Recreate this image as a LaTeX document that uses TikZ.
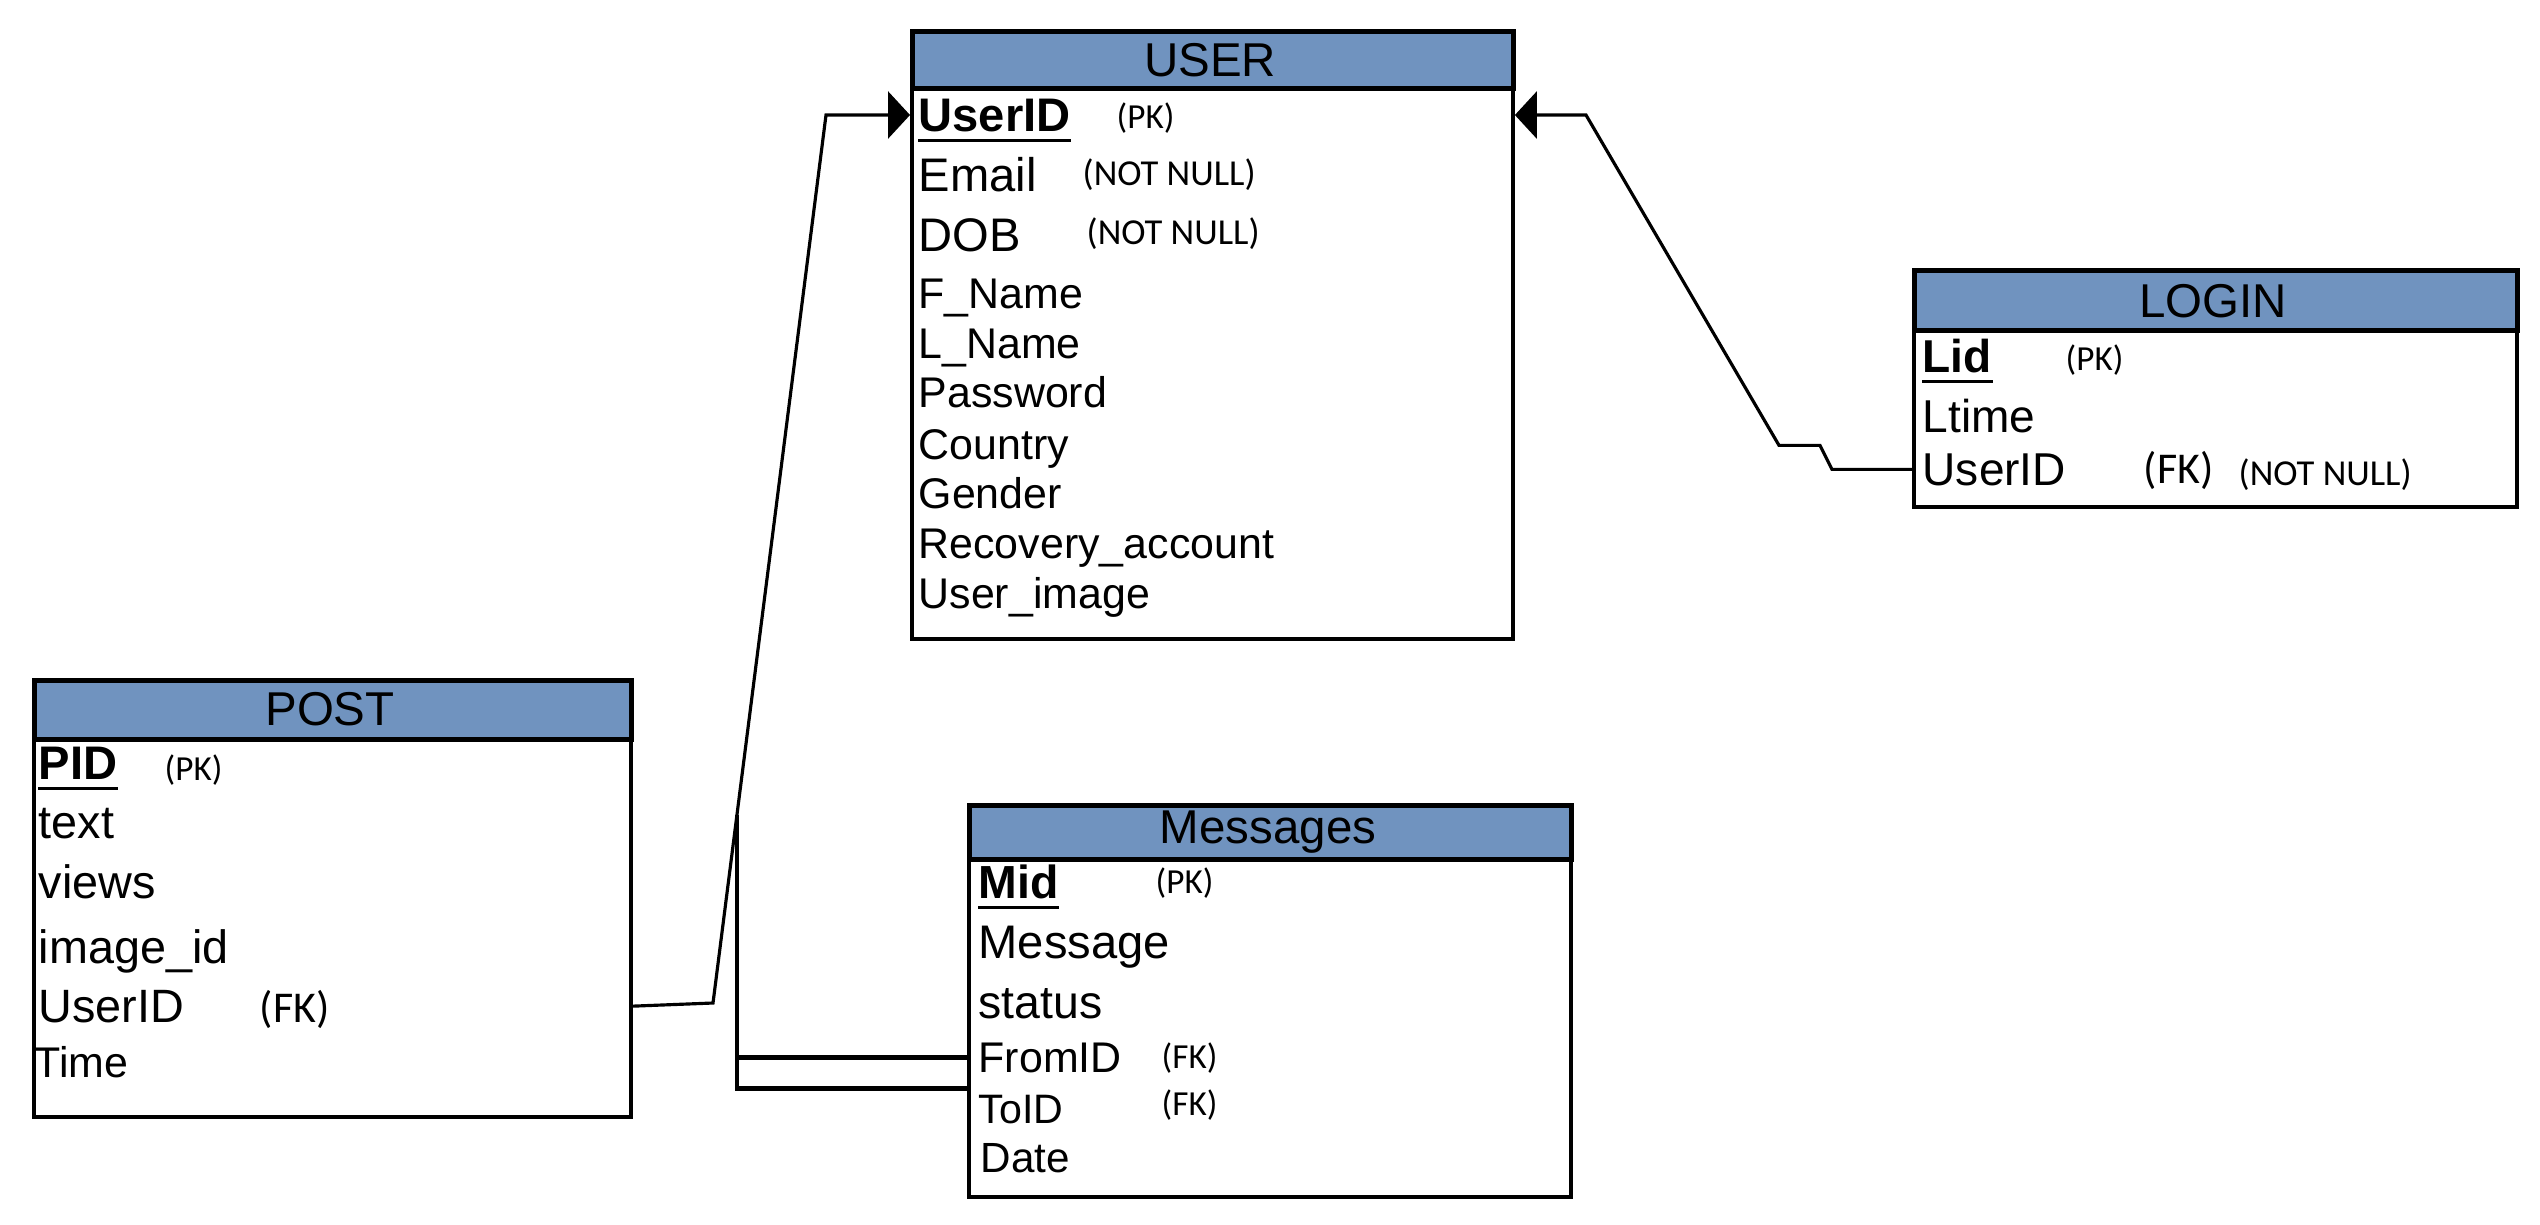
\documentclass[tikz,border=0pt]{standalone}
\usepackage{fontspec}
\setmainfont{Liberation Sans}
\newfontfamily\calfont{Carlito}
\usetikzlibrary{arrows.meta,calc}
\definecolor{hdrblue}{RGB}{112,147,191}
\begin{document}
\begin{tikzpicture}[x=0.01cm,y=-0.01cm,
  hdr/.style={draw,line width=1.35pt,fill=hdrblue,anchor=north west,inner sep=0},
  tbody/.style={draw,line width=1pt,fill=white,anchor=north west,inner sep=0},
  ttl/.style={anchor=base,inner sep=0,font=\fontsize{13.5}{15}\selectfont},
  fld/.style={anchor=base west,inner sep=0,font=\fontsize{#1}{15}\selectfont},
  fld/.default=13.3,
  tag/.style={anchor=base west,inner sep=0,font=\calfont\fontsize{#1}{12}\selectfont},
  tag/.default=10,
  uline/.style={line width=0.95pt},
  conn/.style={line width=0.9pt},
  conn2/.style={line width=1.3pt},
  tip/.style={-{Triangle[width=0.47cm,length=0.22cm]}}]
\useasboundingbox (0,0) rectangle (2540,1224);

% ---------- USER ----------
\node[tbody,minimum width=6.01cm,minimum height=5.51cm] (user) at (910,86) {};
\node[hdr,minimum width=6.01cm,minimum height=0.57cm] (userH) at (910,29) {};
\node[ttl] (userT) at (1210,77) {USER};
\node[fld=13.4] (u1) at (918,131) {\textbf{UserID}};
\node[fld=13.4] (u2) at (918,191) {Email};
\node[fld=13.4] (u3) at (918,251) {DOB};
\node[fld=12.2] (u4) at (918,308) {F\_Name};
\node[fld=12.2] (u5) at (918,358) {L\_Name};
\node[fld=12.2] (u6) at (918,407) {Password};
\node[fld=12.2] (u7) at (918,459) {Country};
\node[fld=12.2] (u8) at (918,508) {Gender};
\node[fld=12.2] (u9) at (918,558) {Recovery\_account};
\node[fld=12.2] (u10) at (918,608) {User\_image};
\node[tag] (uPK) at (1116,128) {(PK)};
\node[tag=10.4] (uNN1) at (1082,185) {(NOT NULL)};
\node[tag=10.4] (uNN2) at (1086,244) {(NOT NULL)};
\draw[uline] ($(u1.base west)+(0,9.5)$) -- ($(u1.base east)+(0,9.5)$);

% ---------- LOGIN ----------
\node[tbody,minimum width=6.03cm,minimum height=1.77cm] (login) at (1912,328) {};
\node[hdr,minimum width=6.03cm,minimum height=0.60cm] (loginH) at (1912,268) {};
\node[ttl] (loginT) at (2213,317) {LOGIN};
\node[fld=13.1] (l1) at (1922,372) {\textbf{Lid}};
\node[fld=13.1] (l2) at (1922,432) {Ltime};
\node[fld=13.1] (l3) at (1922,485) {UserID};
\node[tag] (lPK) at (2065,370) {(PK)};
\node[tag=12.5] (lFK) at (2143,483) {(FK)};
\node[tag=10.4] (lNN) at (2238,485) {(NOT NULL)};
\draw[uline] ($(l1.base west)+(0,9.5)$) -- ($(l1.base east)+(0,9.5)$);

% ---------- POST ----------
\node[tbody,minimum width=5.97cm,minimum height=3.78cm] (post) at (32,737) {};
\node[hdr,minimum width=5.97cm,minimum height=0.59cm] (postH) at (32,678) {};
\node[ttl] (postT) at (330,725) {POST};
\node[fld=13.4] (pf1) at (38,779) {\textbf{PID}};
\node[fld] (pf2) at (38,838) {text};
\node[fld] (pf3) at (38,898) {views};
\node[fld] (pf4) at (38,963) {image\_id};
\node[fld] (pf5) at (38,1022) {UserID};
\node[fld=12.2] (pf6) at (34,1077) {Time};
\node[tag] (pPK) at (164,780) {(PK)};
\node[tag=12.5] (pFK) at (259,1022) {(FK)};
\draw[uline] ($(pf1.base west)+(0,9.5)$) -- ($(pf1.base east)+(0,9.5)$);

% ---------- Messages ----------
\node[tbody,minimum width=6.02cm,minimum height=3.38cm] (msg) at (967,857) {};
\node[hdr,minimum width=6.02cm,minimum height=0.54cm] (msgH) at (967,803) {};
\node[ttl] (msgT) at (1268,843) {Messages};
\node[fld=13.2] (m1) at (978,898) {\textbf{Mid}};
\node[fld=13.4] (m2) at (978,958) {Message};
\node[fld=13.2] (m3) at (978,1018) {status};
\node[fld=12.2] (m4) at (978,1072) {FromID};
\node[fld=11.7] (m5) at (978,1123) {ToID};
\node[fld=12] (m6) at (980,1172) {Date};
\node[tag] (mPK) at (1155,893) {(PK)};
\node[tag] (mFK1) at (1161,1068) {(FK)};
\node[tag] (mFK2) at (1161,1115) {(FK)};
\draw[uline] ($(m1.base west)+(0,9.5)$) -- ($(m1.base east)+(0,9.5)$);

% ---------- connectors ----------
% POST.UserID -> USER.UserID
\coordinate (pb1) at (713,1003);
\coordinate (pb2) at (826,114);
\draw[conn,tip] (post.east |- pf5) -- (pb1) -- (pb2 |- u1) -- (user.west |- u1);

% Messages.FromID / ToID joining the POST-USER line
\coordinate (j) at ($(pb1)!0.212!(pb2)$);
\coordinate (mjoin) at ($(msg.west |- m4)!0.6!(msg.west |- m5)$);
\draw[conn2] (msg.west |- m4) -- (j |- m4);
\draw[conn2] (mjoin) -- (j |- mjoin) -- (j);

% LOGIN.UserID -> USER.UserID
\coordinate (lb) at (1586,0);
\draw[conn,tip] (login.west |- l3) -- ++(-80,0) -- ++(-12,-24) -- ++(-41,0)
  -- (lb |- u1) -- (user.east |- u1);
\end{tikzpicture}
\end{document}
